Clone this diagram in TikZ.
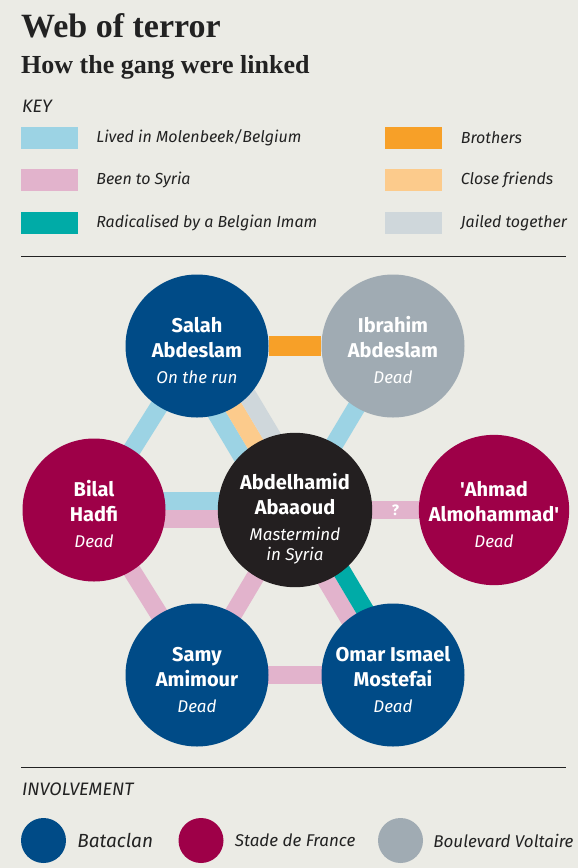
\documentclass[tikz,border=0pt]{standalone}
\usepackage{fontspec}
\setmainfont{Fira Sans}
\newfontfamily\headfont{Liberation Serif}
\usetikzlibrary{positioning,calc}

\definecolor{paper}{HTML}{EBEBE5}
\definecolor{ink}{HTML}{222222}
\definecolor{bataclan}{HTML}{004B87}
\definecolor{stade}{HTML}{9E0048}
\definecolor{voltaire}{HTML}{A0ABB3}
\definecolor{mastermind}{HTML}{231F20}
\definecolor{molenbeek}{HTML}{9CD3E4}
\definecolor{syria}{HTML}{E2B3CC}
\definecolor{imam}{HTML}{00ABA7}
\definecolor{brothers}{HTML}{F7A028}
\definecolor{friends}{HTML}{FCCB8C}
\definecolor{jailed}{HTML}{CFD7DB}

\pgfdeclarelayer{paperlayer}
\pgfdeclarelayer{links}
\pgfsetlayers{paperlayer,links,main}

% offset, colour, from, to
\newcommand\bandlink[4]{%
  \draw[band, draw=#2] ($(#3)!#1!90:(#4)$) -- ($(#4)!#1!-90:(#3)$);}
\newcommand\status{\fontsize{17}{21}\selectfont\mdseries\itshape}
\newcommand\toprule[1][24pt]{\rule{0pt}{#1}}

\begin{document}
\begin{tikzpicture}[x=1pt, y=-1pt,
    person/.style={circle, minimum size=143pt, inner sep=0pt, text=white, align=center,
      font=\fontsize{20}{25}\selectfont\bfseries},
    swatch/.style={minimum width=57pt, minimum height=22pt, inner sep=0pt},
    keytext/.style={inner sep=0pt, font=\fontsize{16}{19}\selectfont\itshape, text=ink},
    venuedot/.style={circle, minimum size=45pt, inner sep=0pt},
    band/.style={line width=18pt},
    sepline/.style={draw=ink, line width=0.9pt},
    qmark/.style={inner sep=0pt, text=white, font=\fontsize{15}{18}\selectfont\bfseries}
  ]
\useasboundingbox (0,0) rectangle (578,868);
\begin{pgfonlayer}{paperlayer}
  \fill[paper] (0,0) rectangle (578,868);
\end{pgfonlayer}

% heading
\node[anchor=base west, inner sep=0pt, text=ink,
  font=\headfont\bfseries\fontsize{34}{40}\selectfont] (title) at (21,37) {Web of terror};
\node[anchor=base west, inner sep=0pt, text=ink,
  font=\headfont\bfseries\fontsize{26}{30}\selectfont] (subtitle) at (21,73) {How the gang were linked};

% key
\node[anchor=base west, inner sep=0pt, text=ink,
  font=\fontsize{18}{22}\selectfont\itshape] (key) at (22,112) {KEY};
\node[swatch, fill=molenbeek] (kmol) at (49.5,137.5) {};
\node[swatch, fill=syria] (ksyr) at (49.5,180) {};
\node[swatch, fill=imam] (kimam) at (49.5,222.5) {};
\node[swatch, fill=brothers] (kbro) at (413,137.5) {};
\node[swatch, fill=friends] (kfri) at (413,180) {};
\node[swatch, fill=jailed] (kjail) at (413,222.5) {};
\node[keytext, right=18pt of kmol] (lmol) {Lived in Molenbeek/Belgium};
\node[keytext, right=18pt of ksyr] (lsyr) {Been to Syria};
\node[keytext, right=18pt of kimam] (limam) {Radicalised by a Belgian Imam};
\node[keytext, right=19pt of kbro] (lbro) {Brothers};
\node[keytext, right=19pt of kfri] (lfri) {Close friends};
\node[keytext, right=19pt of kjail] (ljail) {Jailed together};

\draw[sepline] (21,256) -- (566,256);

% the gang
\node[person, fill=bataclan] (sa) at (197,346) {\toprule Salah\\Abdeslam\\[1pt]\status On the run};
\node[person, fill=voltaire] (ia) at (393,346) {\toprule Ibrahim\\Abdeslam\\[1pt]\status Dead};
\node[person, fill=stade] (bh) at (94,510) {\toprule Bilal\\Hadfi\\[1pt]\status Dead};
\node[person, fill=mastermind] (ab) at (295,510) {\toprule[34pt]Abdelhamid\\Abaaoud\\[1pt]\status Mastermind\\[-5pt]\status in Syria};
\node[person, fill=stade] (am) at (494,510) {\toprule\textquotesingle Ahmad\\Almohammad\textquotesingle\\[1pt]\status Dead};
\node[person, fill=bataclan] (sy) at (197,675) {\toprule Samy\\Amimour\\[1pt]\status Dead};
\node[person, fill=bataclan] (om) at (393,675) {\toprule Omar Ismael\\Mostefai\\[1pt]\status Dead};

% links
\begin{pgfonlayer}{links}
  \draw[band, line width=20pt, draw=brothers] (sa) -- (ia);
  \bandlink{0pt}{molenbeek}{sa}{bh}
  \bandlink{-18pt}{molenbeek}{sa}{ab}
  \bandlink{0pt}{friends}{sa}{ab}
  \bandlink{18pt}{jailed}{sa}{ab}
  \bandlink{0pt}{molenbeek}{ia}{ab}
  \bandlink{9pt}{molenbeek}{bh}{ab}
  \bandlink{-9pt}{syria}{bh}{ab}
  \draw[band, draw=syria] (ab) -- node[qmark] (q) {?} (am);
  \bandlink{0pt}{syria}{bh}{sy}
  \bandlink{0pt}{syria}{ab}{sy}
  \bandlink{-9pt}{syria}{ab}{om}
  \bandlink{9pt}{imam}{ab}{om}
  \bandlink{0pt}{syria}{sy}{om}
\end{pgfonlayer}

% involvement
\draw[sepline] (21,767) -- (566,767);
\node[anchor=base west, inner sep=0pt, text=ink,
  font=\fontsize{18}{22}\selectfont\itshape] (inv) at (22,795) {INVOLVEMENT};
\node[venuedot, fill=bataclan] (vbat) at (43.5,840.5) {};
\node[venuedot, fill=stade] (vsdf) at (201,840.5) {};
\node[venuedot, fill=voltaire] (vbv) at (400.5,840.5) {};
\node[keytext, font=\fontsize{19}{22}\selectfont\itshape, right=11pt of vbat] (lbat) {Bataclan};
\node[keytext, font=\fontsize{17}{20}\selectfont\itshape, right=11pt of vsdf] (lsdf) {Stade de France};
\node[keytext, font=\fontsize{17}{20}\selectfont\itshape, right=10pt of vbv] (lbv) {Boulevard Voltaire};
\end{tikzpicture}
\end{document}
